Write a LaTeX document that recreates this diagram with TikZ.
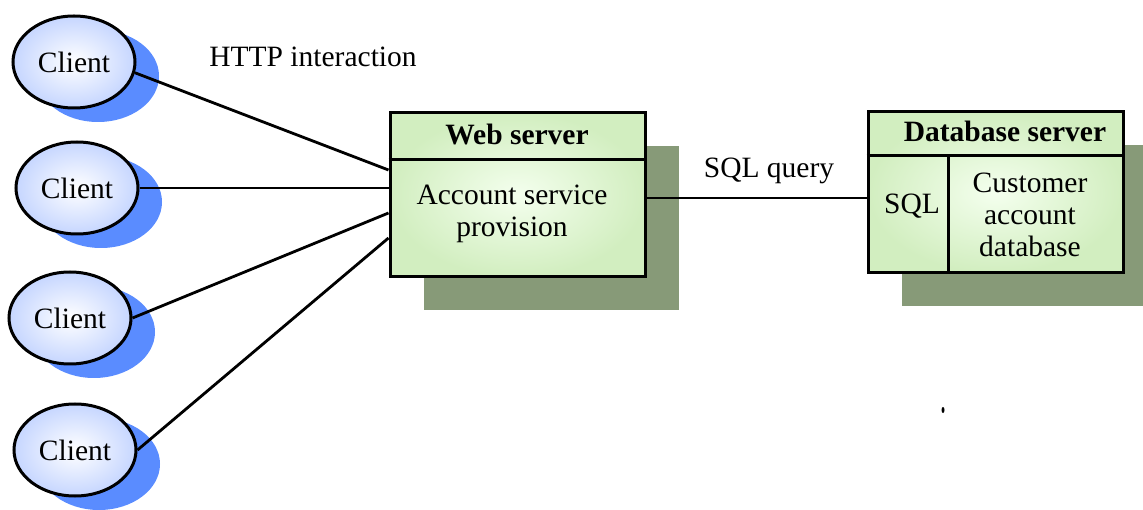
\documentclass[tikz,border=0pt]{standalone}
\usepackage{fontspec}
\setmainfont{Liberation Serif}
\usetikzlibrary{shapes.geometric,shadows}
\definecolor{clientedge}{HTML}{C6D6FF}
\definecolor{clientshade}{HTML}{5A8CFF}
\definecolor{boxcore}{HTML}{F4FFEE}
\definecolor{boxedge}{HTML}{D2EEC0}
\definecolor{boxshade}{HTML}{879A78}
\newcommand{\bigtxt}{\fontsize{29.5}{32}\selectfont}
\tikzset{
  client/.style = {ellipse, draw=black, line width=3pt, minimum width=122pt,
                   minimum height=92pt, inner sep=0pt, inner color=white,
                   outer color=clientedge, font=\bigtxt,
                   general shadow={fill=clientshade, shadow xshift=24pt, shadow yshift=-14pt}},
  srvbox/.style = {draw=black, line width=3pt, inner color=boxcore, outer color=boxedge,
                   general shadow={fill=boxshade, shadow xshift=34pt, shadow yshift=-33pt}},
  divline/.style = {black, line width=3pt},
  link/.style    = {black, line width=2.8pt},
  lbl/.style     = {font=\bigtxt, inner sep=0pt, align=center}
}
\begin{document}
\begin{tikzpicture}[x=1pt,y=-1pt]
  \useasboundingbox (0,0) rectangle (1143,510);
  % servers
  \node[srvbox, minimum width=255pt, minimum height=164pt] (web) at (517.5,195) {};
  \draw[divline] ([yshift=-48pt]web.north west) -- ([yshift=-48pt]web.north east);
  \node[lbl, font=\bigtxt\bfseries] (webtitle) at (517,134) {Web server};
  \node[lbl] (webbody) at (512,214) {Account service\\provision};

  \node[srvbox, minimum width=255pt, minimum height=161pt] (db) at (995.5,192.5) {};
  \draw[divline] ([yshift=-45pt]db.north west) -- ([yshift=-45pt]db.north east);
  \draw[divline] ([xshift=82pt,yshift=-45pt]db.north west) -- ([xshift=82pt]db.south west);
  \node[lbl, font=\bigtxt\bfseries] (dbtitle) at (1005,131) {Database server};
  \node[lbl] (sql) at (912,206) {SQL};
  \node[lbl] (custdb) at (1030,215) {Customer\\account\\database};

  % clients
  \node[client] (c1) at (74,62) {Client};
  \node[client] (c2) at (77,188) {Client};
  \node[client] (c3) at (70,318) {Client};
  \node[client] (c4) at (75,450) {Client};

  % connectors
  \draw[link] (c1.-10) -- ([yshift=25pt]web.west);
  \draw[link] (c2.east) -- ([yshift=7pt]web.west);
  \draw[link] (c3.east) -- ([yshift=-18pt]web.west);
  \draw[link] (c4.east) -- ([yshift=-43pt]web.west);
  \draw[link] ([yshift=-3pt]web.east) -- ([yshift=-3pt]web.east -| db.west);

  \node[lbl] (http) at (313,57) {HTTP interaction};
  \node[lbl] (query) at (769,171) {SQL query};
  \fill (943,410) ellipse [x radius=1.5pt, y radius=3pt];
\end{tikzpicture}
\end{document}
